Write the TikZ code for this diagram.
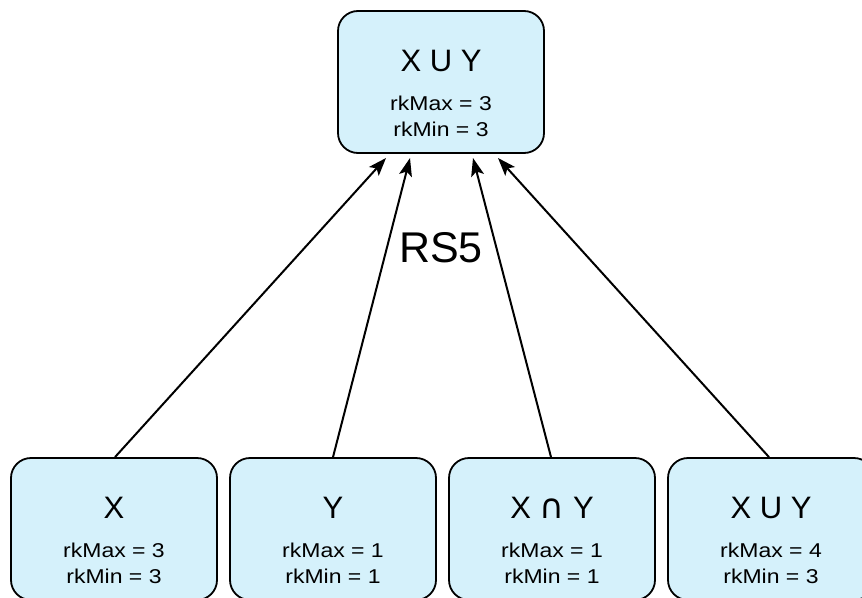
\documentclass[tikz,border=0pt]{standalone}
\usepackage{fontspec}
\setmainfont{Liberation Sans}
\newfontfamily\infofont[FakeStretch=1.15]{Liberation Sans}
\newfontfamily\symfont{DejaVu Sans}
\usetikzlibrary{arrows.meta}
\definecolor{boxfill}{HTML}{D5F1FB}
\tikzset{
  box/.style={draw=black, line width=1.8pt, fill=boxfill, rounded corners=20pt,
    minimum width=206pt, minimum height=142pt, inner sep=0pt},
  title/.style={font=\fontsize{31}{36}\selectfont, inner sep=0pt},
  info/.style={font=\infofont\fontsize{20}{24}\selectfont, inner sep=0pt},
  arr/.style={line width=2pt, arrows={-Stealth[length=18pt,width=13pt,inset=4pt]}},
}
\begin{document}
\begin{tikzpicture}[x=1pt,y=-1pt]
\useasboundingbox (0,0) rectangle (862,597);
% top
\node[box] (top) at (441,82) {};
\node[title] (topt) at ([yshift=21pt]top.center) {X U Y};
\node[info] (topa) at ([yshift=-21pt]top.center) {rkMax = 3};
\node[info] (topb) at ([yshift=-47pt]top.center) {rkMin = 3};
% bottom
\node[box] (b1) at (114,529) {};
\node[box] (b2) at (333,529) {};
\node[box] (b3) at (552,529) {};
\node[box] (b4) at (771,529) {};
\node[title] (b1t) at ([yshift=21pt]b1.center) {X};
\node[info] (b1a) at ([yshift=-21pt]b1.center) {rkMax = 3};
\node[info] (b1b) at ([yshift=-47pt]b1.center) {rkMin = 3};
\node[title] (b2t) at ([yshift=21pt]b2.center) {Y};
\node[info] (b2a) at ([yshift=-21pt]b2.center) {rkMax = 1};
\node[info] (b2b) at ([yshift=-47pt]b2.center) {rkMin = 1};
\node[title] (b3t) at ([yshift=21pt]b3.center) {X {\symfont\fontsize{34}{36}\selectfont ∩} Y};
\node[info] (b3a) at ([yshift=-21pt]b3.center) {rkMax = 1};
\node[info] (b3b) at ([yshift=-47pt]b3.center) {rkMin = 1};
\node[title] (b4t) at ([yshift=21pt]b4.center) {X U Y};
\node[info] (b4a) at ([yshift=-21pt]b4.center) {rkMax = 4};
\node[info] (b4b) at ([yshift=-47pt]b4.center) {rkMin = 3};
% label
\node[font=\fontsize{43}{48}\selectfont, inner sep=0pt] (rs) at (441,248) {RS5};
% arrows
\coordinate (e1) at (386,158);
\coordinate (e2) at (410,158);
\coordinate (e3) at (473,158);
\coordinate (e4) at (498,158);
\draw[arr] (b1.north) ++(1,0) -- (e1);
\draw[arr] (b2.north) -- (e2);
\draw[arr] (b3.north) ++(-1,0) -- (e3);
\draw[arr] (b4.north) ++(-2,0) -- (e4);
\end{tikzpicture}
\end{document}
